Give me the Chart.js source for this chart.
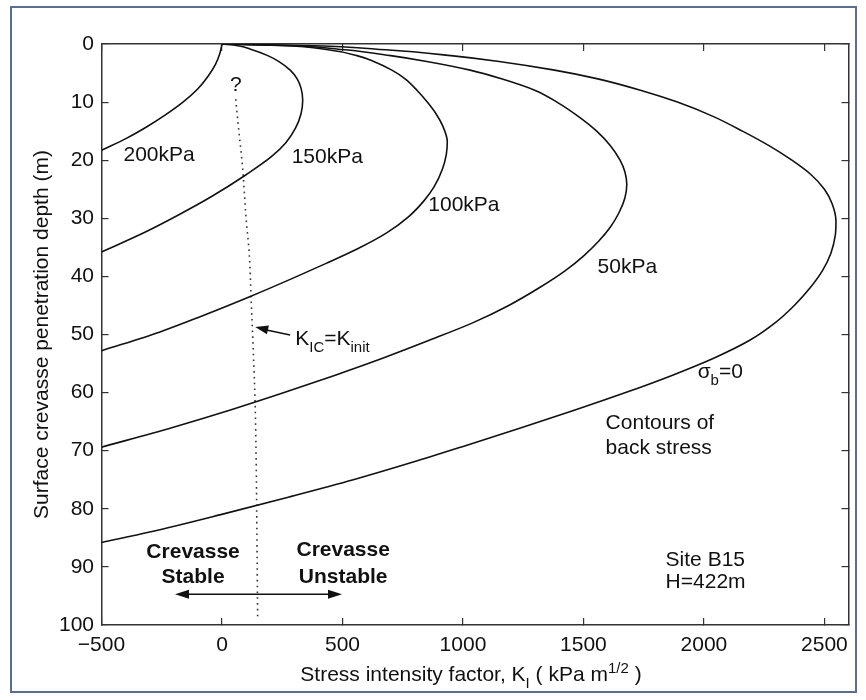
<!DOCTYPE html>
<html>
<head>
<meta charset="utf-8">
<title>Crevasse stress intensity</title>
<script src="https://cdn.jsdelivr.net/npm/chart.js@4.4.0/dist/chart.umd.min.js"></script>
<style>
  html, body { margin: 0; padding: 0; background: #fff; }
  #wrap { position: relative; width: 866px; height: 700px; }
  #frame { position: absolute; left: 10px; top: 6px; width: 847px; height: 687px;
           border: 2px solid #5a6d8c; box-sizing: border-box; pointer-events: none; }
  canvas { position: absolute; left: 0; top: 0; }
</style>
</head>
<body>
<div id="wrap">
  <canvas id="chart" width="866" height="700"></canvas>
  <div id="frame"></div>
</div>
<script>
// Values: depth (m) and K_I (kPa m^1/2) along each back-stress contour
const dSigma0 = [0, 0.25, 1, 2, 3, 4.5, 6, 8, 10, 12.5, 15, 17.5, 20, 22.5, 25, 27.5, 30.5, 33, 36, 39, 42, 45, 48, 51, 54, 57, 60, 63, 66, 69, 72, 75, 78, 81, 84, 85.8];
const kSigma0 = [0, 340, 680, 950, 1150, 1380, 1560, 1740, 1890, 2040, 2160, 2270, 2365, 2445, 2500, 2532, 2548, 2545, 2527, 2492, 2440, 2375, 2295, 2190, 2045, 1870, 1675, 1465, 1245, 1020, 790, 545, 275, -5, -300, -500];

const d50 = [0, 0.25, 1, 2, 3, 4.5, 6, 8, 10, 12.5, 15, 17.5, 20, 22, 24.2, 26.5, 29, 31.5, 34, 36.5, 39, 42, 45, 48, 51, 54, 57, 60, 63, 66, 69.4];
const k50 = [0, 260, 510, 700, 850, 1030, 1160, 1300, 1390, 1480, 1555, 1612, 1652, 1672, 1680, 1672, 1648, 1612, 1562, 1500, 1425, 1315, 1190, 1040, 860, 672, 470, 258, 35, -205, -500];

const d100 = [0, 0.25, 1, 2, 3, 4.5, 6, 8, 10, 12, 14, 16.8, 19, 21.5, 24.6, 27, 29.7, 32.6, 35.2, 37.8, 40.3, 43.5, 46.9, 49.6, 52.8];
const k100 = [0, 240, 440, 560, 630, 705, 760, 810, 852, 888, 915, 935, 931, 915, 880, 838, 775, 680, 565, 430, 295, 115, -88, -260, -500];

const d150 = [0, 0.25, 1, 2, 3, 4.5, 6, 7.6, 9.7, 12, 14.5, 17, 19.4, 22.5, 26.3, 29.3, 32.4, 35.8];
const k150 = [0, 60, 125, 190, 235, 283, 312, 328, 335, 328, 305, 265, 205, 100, -45, -175, -320, -500];

const d200 = [0, 1.5, 3.5, 5.5, 7.7, 10, 12.2, 14.2, 16.2, 18.3];
const k200 = [0, -8, -27, -57, -100, -162, -235, -310, -395, -500];

// K_IC = K_init threshold (dotted)
const dInit = [9.5, 15, 21, 30, 36, 45, 53, 61, 72, 85, 98.5];
const kInit = [57, 70, 85, 100, 113, 122, 130, 137, 142, 145, 148];

const curveNames = ['σb=0', '50kPa', '100kPa', '150kPa', '200kPa'];
const xTicks = [-500, 0, 500, 1000, 1500, 2000, 2500];
const yTicks = [0, 10, 20, 30, 40, 50, 60, 70, 80, 90, 100];

const FONT = '"Liberation Sans", Arial, Helvetica, sans-serif';
const INK = '#111';

function toPoints(ks, ds) {
    return ks.map((k, i) => ({ x: k, y: ds[i] }));
}

const curves = [[kSigma0, dSigma0], [k50, d50], [k100, d100], [k150, d150], [k200, d200]];
const datasets = curves.map(([ks, ds], i) => ({
    label: curveNames[i],
    data: toPoints(ks, ds),
    borderColor: INK,
    borderWidth: 1.6,
    pointRadius: 0,
    cubicInterpolationMode: 'monotone'
}));
datasets.push({
    label: 'KIC=Kinit',
    data: toPoints(kInit, dInit),
    borderColor: '#333',
    borderWidth: 1.6,
    borderDash: [1.6, 4.2],
    pointRadius: 0,
    cubicInterpolationMode: 'monotone'
});

// text pieces with sub/superscripts
function drawRich(ctx, x, y, parts, align) {
    let total = 0;
    parts.forEach(([t, size]) => {
        ctx.font = `${size}px ${FONT}`;
        total += ctx.measureText(t).width;
    });
    let cx = align === 'center' ? x - total / 2 : x;
    ctx.textAlign = 'left';
    parts.forEach(([t, size, dy]) => {
        ctx.font = `${size}px ${FONT}`;
        ctx.fillText(t, cx, y + dy);
        cx += ctx.measureText(t).width;
    });
}

function arrowHead(ctx, x1, y1, x2, y2, len, wid) {
    const a = Math.atan2(y2 - y1, x2 - x1);
    ctx.beginPath();
    ctx.moveTo(x2, y2);
    ctx.lineTo(x2 - len * Math.cos(a) + wid * Math.sin(a), y2 - len * Math.sin(a) - wid * Math.cos(a));
    ctx.lineTo(x2 - len * Math.cos(a) - wid * Math.sin(a), y2 - len * Math.sin(a) + wid * Math.cos(a));
    ctx.closePath();
    ctx.fill();
}

const annotations = {
    id: 'annotations',
    afterDraw(chart) {
        const { ctx, scales: { x, y } } = chart;
        const px = v => x.getPixelForValue(v);
        const py = v => y.getPixelForValue(v);
        ctx.save();
        ctx.fillStyle = INK;
        ctx.strokeStyle = INK;
        ctx.textBaseline = 'alphabetic';

        ctx.font = `21px ${FONT}`;
        ctx.textAlign = 'center';
        ctx.fillText('?', px(57), py(8.1));
        ctx.fillText(curveNames[4], px(-261), py(20.1));
        ctx.fillText(curveNames[3], px(437), py(20.4));
        ctx.fillText(curveNames[2], px(1004), py(28.8));
        ctx.fillText(curveNames[1], px(1682), py(39.5));

        ctx.textAlign = 'left';
        ctx.fillText('Contours of', px(1592), py(66.3));
        ctx.fillText('back stress', px(1592), py(70.6));
        ctx.fillText('Site B15', px(1841), py(89.8));
        ctx.fillText('H=422m', px(1841), py(93.7));

        drawRich(ctx, px(1974), py(57.5), [['σ', 21, 0], ['b', 15, 7], ['=0', 21, 0]]);
        drawRich(ctx, px(304), py(51.8), [['K', 21, 0], ['IC', 15, 7], ['=K', 21, 0], ['init', 15, 7]]);

        // arrow from the label to the threshold line
        ctx.lineWidth = 1.5;
        ctx.beginPath();
        ctx.moveTo(px(283), py(50.1));
        ctx.lineTo(px(160), py(49.0));
        ctx.stroke();
        arrowHead(ctx, px(283), py(50.1), px(138), py(48.7), 13, 4.5);

        ctx.font = `bold 21px ${FONT}`;
        ctx.textAlign = 'center';
        ctx.fillText('Crevasse', px(-120), py(88.5));
        ctx.fillText('Stable', px(-120), py(92.8));
        ctx.fillText('Crevasse', px(503), py(88.2));
        ctx.fillText('Unstable', px(503), py(92.8));

        // double arrow
        const ay = py(94.7);
        ctx.lineWidth = 1.5;
        ctx.beginPath();
        ctx.moveTo(px(-170), ay);
        ctx.lineTo(px(470), ay);
        ctx.stroke();
        arrowHead(ctx, px(0), ay, px(-195), ay, 14, 4.5);
        arrowHead(ctx, px(0), ay, px(498), ay, 14, 4.5);

        // axis titles
        drawRich(ctx, 471, 680.5, [['Stress intensity factor, K', 21, 0], ['I', 15, 7], [' ( kPa m', 21, 0], ['1/2', 15, -8], [' )', 21, 0]], 'center');

        ctx.translate(48, (chart.chartArea.top + chart.chartArea.bottom) / 2);
        ctx.rotate(-Math.PI / 2);
        ctx.font = `21px ${FONT}`;
        ctx.textAlign = 'center';
        ctx.fillText('Surface crevasse penetration depth (m)', 0, 0);
        ctx.restore();
    }
};

const tickFont = { family: FONT, size: 21 };
const gridStyle = { drawOnChartArea: false, tickLength: -7, color: '#333', lineWidth: 1.2 };
const borderStyle = { color: '#333', width: 1.5 };
const plainNumber = v => (v < 0 ? '\u2212' + Math.abs(v) : String(v));

new Chart(document.getElementById('chart'), {
    type: 'line',
    data: { datasets },
    plugins: [annotations],
    options: {
        indexAxis: 'y',
        responsive: false,
        animation: false,
        layout: { padding: { top: 44, right: 17.5, left: 0, bottom: 0 } },
        plugins: { legend: { display: false }, tooltip: { enabled: false } },
        scales: {
            x: {
                type: 'linear', position: 'bottom', min: -500, max: 2600,
                afterBuildTicks: s => { s.ticks = xTicks.map(v => ({ value: v })); },
                ticks: { font: tickFont, color: INK, padding: 15, maxRotation: 0, autoSkip: false, callback: plainNumber },
                grid: gridStyle, border: borderStyle,
                afterFit: s => { s.height = 75; }
            },
            x2: {
                type: 'linear', position: 'top', min: -500, max: 2600,
                afterBuildTicks: s => { s.ticks = xTicks.map(v => ({ value: v })); },
                ticks: { display: false },
                grid: gridStyle, border: borderStyle,
                afterFit: s => { s.height = 0; }
            },
            y: {
                type: 'linear', position: 'left', reverse: true, min: 0, max: 100,
                afterBuildTicks: s => { s.ticks = yTicks.map(v => ({ value: v })); },
                ticks: { font: tickFont, color: INK, padding: 14.5, autoSkip: false, callback: plainNumber },
                grid: gridStyle, border: borderStyle,
                afterFit: s => { s.width = 101.5; }
            },
            y2: {
                type: 'linear', position: 'right', reverse: true, min: 0, max: 100,
                afterBuildTicks: s => { s.ticks = yTicks.map(v => ({ value: v })); },
                ticks: { display: false },
                grid: gridStyle, border: borderStyle,
                afterFit: s => { s.width = 0; }
            }
        }
    }
});
</script>
</body>
</html>
